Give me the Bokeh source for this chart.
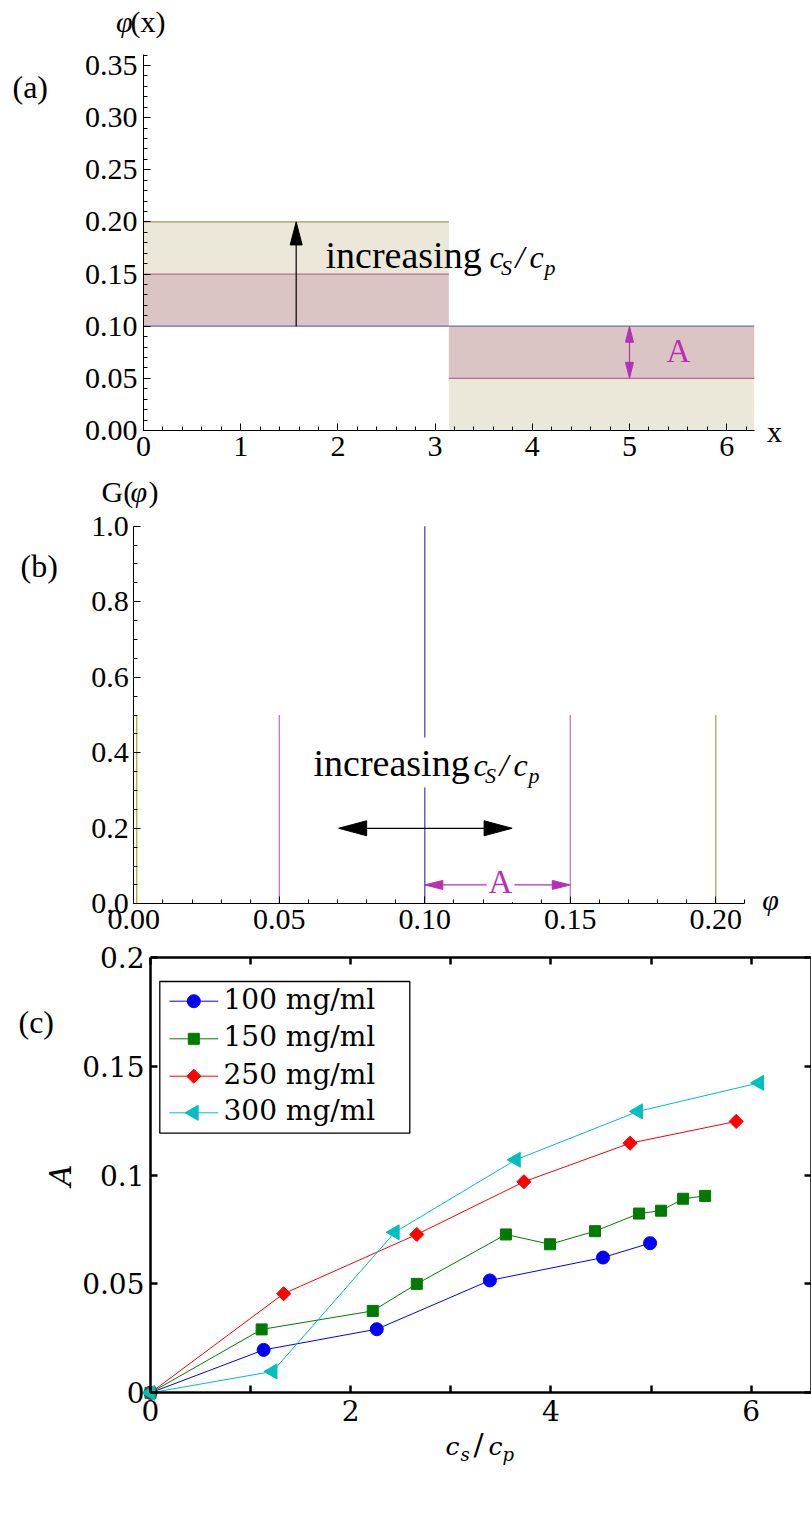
import numpy as np
from bokeh.plotting import figure
from bokeh.layouts import column
from bokeh.models import (Range1d, FixedTicker, PrintfTickFormatter, Label, LinearAxis)
from bokeh.embed import file_html
from bokeh.resources import INLINE

# ---------------- data ----------------
# (a) step profiles phi(x) = phi_mean +/- amplitude
x_edges = [0.0, np.pi, 2 * np.pi]
phi_mean = 0.10
amplitudes = [0.0, 0.05, 0.10]

# (b) distributions G(phi): peak positions and weights
g_phi_a0 = [0.10]
g_val_a0 = [1.0]
g_phi_a1 = [0.05, 0.15]
g_val_a1 = [0.5, 0.5]
g_phi_a2 = [0.001, 0.20]
g_val_a2 = [0.5, 0.5]

# (c) measured amplitude A vs cs/cp
cs_100 = [0.0, 1.13, 2.26, 3.39, 4.52, 4.99]
A_100 = [0.0, 0.0197, 0.0292, 0.0516, 0.0621, 0.0687]
cs_150 = [0.0, 1.11, 2.22, 2.66, 3.55, 3.99, 4.44, 4.88, 5.10, 5.32, 5.54]
A_150 = [0.0, 0.0291, 0.0376, 0.0500, 0.0727, 0.0682, 0.0742, 0.0823, 0.0836, 0.0891, 0.0904]
cs_250 = [0.0, 1.33, 2.66, 3.73, 4.79, 5.85]
A_250 = [0.0, 0.0455, 0.0727, 0.0969, 0.1146, 0.1246]
cs_300 = [0.0, 1.22, 2.44, 3.65, 4.87, 6.08]
A_300 = [0.0, 0.0098, 0.0737, 0.1070, 0.1292, 0.1423]
series_labels = ["100 mg/ml", "150 mg/ml", "250 mg/ml", "300 mg/ml"]

# axis extents and ticks
a_xmax, a_ymax = 2 * np.pi, 0.361
b_xmax, b_ymax = 0.21, 1.0
c_xmax, c_ymax = 6.6, 0.2
a_xticks = [0, 1, 2, 3, 4, 5, 6]
a_yticks = [0.0, 0.05, 0.10, 0.15, 0.20, 0.25, 0.30, 0.35]
b_xticks = [0.0, 0.05, 0.10, 0.15, 0.20]
b_yticks = [0.0, 0.2, 0.4, 0.6, 0.8, 1.0]
c_xticks = [0, 2, 4, 6]
c_xminor = [1, 3, 5]
c_yticks = [0.0, 0.05, 0.10, 0.15, 0.20]
c_ylabels = ["0", "0.05", "0.1", "0.15", "0.2"]

SERIF = "Liberation Serif"
CSERIF = "DejaVu Serif"
BLUE_M, PURPLE_M, OLIVE_M = "#3D3D99", "#993D71", "#998C3F"
MAGENTA = "#B530B5"
PAGE_L, PAGE_R = 0, 811
BASELINE_FIX = 0.4   # label baseline correction, in em


class Mapping:
    """page-pixel <-> data mapping of one panel"""
    def __init__(self, x0, y0, sx, sy):
        self.x0, self.y0, self.sx, self.sy = x0, y0, sx, sy

    def X(self, px):
        return (px - self.x0) / self.sx

    def Y(self, py):
        return (self.y0 - py) / self.sy


def make_fig(m, top, height):
    p = figure(width=PAGE_R - PAGE_L, height=height,
               x_range=Range1d(m.X(PAGE_L), m.X(PAGE_R)),
               y_range=Range1d(m.Y(top + height), m.Y(top)),
               x_axis_location=None, y_axis_location=None, title=None,
               output_backend="svg", toolbar_location=None,
               min_border=0, min_border_left=0, min_border_right=0,
               min_border_top=0, min_border_bottom=0)
    p.outline_line_color = None
    for g in p.grid:
        g.visible = False
    return p


def lab(fig, m, px, py, text, size, style="normal", color="black", align="left",
        baseline="alphabetic", font=SERIF, bg=None, angle=0.0, pad=0):
    if baseline == "alphabetic":
        py = py - BASELINE_FIX * size
    l = Label(x=m.X(px), y=m.Y(py), text=text, text_font=font, text_font_size=f"{size}px",
              text_font_style=style, text_color=color, text_align=align,
              text_baseline=baseline, angle=angle)
    if bg is not None:
        l.background_fill_color = bg
        l.padding = pad
    fig.add_layout(l)


def head(fig, m, xt, yt, dx, dy, L, W, color):
    xb = xt - L * dx / m.sx
    yb = yt - L * dy / m.sy
    px, py = -dy, dx
    xs = [xt, xb + 0.5 * W * px / m.sx, xb - 0.5 * W * px / m.sx]
    ys = [yt, yb + 0.5 * W * py / m.sy, yb - 0.5 * W * py / m.sy]
    fig.patch(xs, ys, fill_color=color, line_color=color, line_width=1)


def axis(fig, side, loc, bounds, ticks, minor, font, size, tin=7, tmin=4, lw=1, standoff=6, fmt=None):
    ax = LinearAxis(fixed_location=loc, bounds=bounds,
                    ticker=FixedTicker(ticks=ticks, minor_ticks=minor))
    ax.axis_line_color = "black"
    ax.axis_line_width = lw
    ax.major_tick_line_color = "black"
    ax.minor_tick_line_color = "black"
    ax.major_tick_line_width = lw
    ax.minor_tick_line_width = lw
    ax.major_tick_in = tin
    ax.major_tick_out = 0
    ax.minor_tick_in = tmin
    ax.minor_tick_out = 0
    ax.major_label_text_font = font
    ax.major_label_text_font_size = f"{size}px"
    ax.major_label_text_color = "black"
    ax.major_label_standoff = standoff
    if fmt is not None:
        ax.formatter = PrintfTickFormatter(format=fmt)
    fig.add_layout(ax, side)
    return ax


def fraction_text(fig, m, px, py, sub1, sub2, big, small, font, drop, gaps, style_slash, slash_size=None):
    # c_{sub1} / c_{sub2}
    g1, g2, g3, g4 = gaps
    lab(fig, m, px, py, "c", big, style="italic", font=font)
    lab(fig, m, px + g1, py + drop, sub1, small, style="italic", font=font)
    lab(fig, m, px + g2, py, "/", slash_size or big, style=style_slash, font=font)
    lab(fig, m, px + g3, py, "c", big, style="italic", font=font)
    lab(fig, m, px + g4, py + drop, sub2, small, style="italic", font=font)


# ---------------- panel (a) ----------------
ma = Mapping(143.0, 430.0, (753.7 - 143.0) / (2 * np.pi), (430.0 - 65.0) / 0.35)
pa = make_fig(ma, 0, 472)

fill_cols = [BLUE_M, PURPLE_M, OLIVE_M]
line_cols = ["#6A6AC0", "#B86A98", "#A39A55"]
for amp, fc in zip(amplitudes[::-1], fill_cols[::-1]):
    if amp == 0:
        continue
    xs = [x_edges[0], x_edges[1], x_edges[1], x_edges[2]]
    ys = [phi_mean + amp, phi_mean + amp, phi_mean - amp, phi_mean - amp]
    pa.varea(x=xs, y1=[phi_mean] * 4, y2=ys, fill_color=fc, fill_alpha=0.2)
for amp, lc in zip(amplitudes[::-1], line_cols[::-1]):
    pa.segment(x0=[x_edges[0], x_edges[1]], y0=[phi_mean + amp, phi_mean - amp],
               x1=[x_edges[1], x_edges[2]], y1=[phi_mean + amp, phi_mean - amp],
               line_color=lc, line_width=1.2)

xa = x_edges[1] / 2
pa.segment(x0=[xa], y0=[phi_mean], x1=[xa], y1=[phi_mean + amplitudes[2] - 0.01],
           line_color="black", line_width=1.2)
head(pa, ma, xa, phi_mean + amplitudes[2], 0, 1, 23, 12, "black")
pa.segment(x0=[5.0], y0=[phi_mean - amplitudes[1] + 0.008], x1=[5.0], y1=[phi_mean - 0.008],
           line_color=MAGENTA, line_width=1.2)
head(pa, ma, 5.0, phi_mean, 0, 1, 16, 8, MAGENTA)
head(pa, ma, 5.0, phi_mean - amplitudes[1], 0, -1, 16, 8, MAGENTA)

axis(pa, "below", 0.0, (0, a_xmax), a_xticks, [round(0.2 * i, 1) for i in range(32)],
     SERIF, 30, standoff=6, fmt="%d")
axis(pa, "left", 0.0, (0, a_ymax), a_yticks, [round(0.01 * i, 2) for i in range(37)],
     SERIF, 30, standoff=6, fmt="%.2f")

lab(pa, ma, 12, 99, "(a)", 32)
lab(pa, ma, 132, 33, "\u03c6", 30, style="italic", align="right")
lab(pa, ma, 130, 33, "(x)", 30)
lab(pa, ma, 774, 442.7, "x", 30, align="center")
lab(pa, ma, 325, 269.3, "increasing", 38)
fraction_text(pa, ma, 489, 269.3, "S", "p", 32, 22, SERIF, 6, (11.5, 26, 40, 55), "italic")
lab(pa, ma, 678, 363.3, "A", 33, color=MAGENTA, align="center")

# ---------------- panel (b) ----------------
mb = Mapping(133.3, 903.3, (715.3 - 133.3) / 0.2, (903.3 - 525.7) / 1.0)
pb = make_fig(mb, 472, 470)

pb.segment(x0=g_phi_a2[:1], y0=[0], x1=g_phi_a2[:1], y1=g_val_a2[:1], line_color="#B5AE2A", line_width=1.3)
pb.segment(x0=g_phi_a2[1:], y0=[0], x1=g_phi_a2[1:], y1=g_val_a2[1:], line_color="#A8A062", line_width=1.3)
pb.segment(x0=g_phi_a1, y0=[0, 0], x1=g_phi_a1, y1=g_val_a1, line_color="#C277C2", line_width=1.3)
pb.segment(x0=g_phi_a0, y0=[0], x1=g_phi_a0, y1=g_val_a0, line_color="#4848C8", line_width=1.3)

pb.segment(x0=[0.075], y0=[0.2], x1=[0.125], y1=[0.2], line_color="black", line_width=1.2)
head(pb, mb, 0.0704, 0.2, -1, 0, 28, 15, "black")
head(pb, mb, 0.1300, 0.2, 1, 0, 28, 15, "black")
pb.segment(x0=[g_phi_a0[0] + 0.004], y0=[0.05], x1=[g_phi_a1[1] - 0.004], y1=[0.05],
           line_color=MAGENTA, line_width=1.2)
head(pb, mb, g_phi_a0[0], 0.05, -1, 0, 18, 9, MAGENTA)
head(pb, mb, g_phi_a1[1], 0.05, 1, 0, 18, 9, MAGENTA)

axis(pb, "below", 0.0, (0, b_xmax), b_xticks, [round(0.01 * i, 2) for i in range(22)],
     SERIF, 30, standoff=6, fmt="%.2f")
axis(pb, "left", 0.0, (0, b_ymax), b_yticks, [round(0.05 * i, 2) for i in range(21)],
     SERIF, 30, standoff=5, fmt="%.1f")

lab(pb, mb, 500, 895, "A", 33, color=MAGENTA, align="center", bg="white", pad=2)
lab(pb, mb, 20, 578, "(b)", 32)
lab(pb, mb, 101, 503.3, "G(", 30)
lab(pb, mb, 130, 503.3, "\u03c6", 30, style="italic")
lab(pb, mb, 148, 503.3, ")", 30)
lab(pb, mb, 770, 911, "\u03c6", 30, style="italic", align="center")
lab(pb, mb, 309, 777.3, "increasing", 38, bg="white", pad=4)
fraction_text(pb, mb, 473, 777.3, "S", "p", 32, 22, SERIF, 6, (11.5, 26, 40, 55), "italic")

# ---------------- panel (c) ----------------
mc = Mapping(150.0, 1392.3, (750.7 - 150.0) / 6.0, (1392.3 - 956.7) / 0.2)
pc = make_fig(mc, 942, 538)

specs = [
    (cs_100, A_100, "#0000FF", "#0000FF", "circle", 13, 0.0),
    (cs_150, A_150, "#008000", "#007A00", "square", 11, 0.0),
    (cs_250, A_250, "#FF0000", "#FF0000", "square", 10, np.pi / 4),
    (cs_300, A_300, "#00BFBF", "#00BFBF", "triangle", 15, np.pi / 2),
]
for xs, ys, lc, mcol, mk, sz, ang in specs:
    pc.line(xs, ys, line_color=lc, line_width=1)
    pc.scatter(xs, ys, marker=mk, size=sz, angle=ang, fill_color=mcol, line_color=mcol)

# legend box (top-left, inside the axes)
lg_l, lg_r, lg_t, lg_b = 159.3, 409.3, 981.0, 1132.7
pc.quad(left=[mc.X(lg_l)], right=[mc.X(lg_r)], top=[mc.Y(lg_t)], bottom=[mc.Y(lg_b)],
        fill_color="white", line_color="black", line_width=1.3)
row_y = [1000.7, 1038.3, 1075.7, 1112.3]
for (xs, ys, lc, mcol, mk, sz, ang), name, ry in zip(specs, series_labels, row_y):
    pc.segment(x0=[mc.X(169)], y0=[mc.Y(ry)], x1=[mc.X(217.7)], y1=[mc.Y(ry)],
               line_color=lc, line_width=1)
    pc.scatter([mc.X(193.3)], [mc.Y(ry)], marker=mk, size=sz, angle=ang,
               fill_color=mcol, line_color=mcol)
    lab(pc, mc, 223, ry + 9, name, 28, font=CSERIF)

axis(pc, "below", 0.0, (0, c_xmax), c_xticks, c_xminor, CSERIF, 28, tin=7, tmin=7,
     lw=2.5, standoff=7, fmt="%d")
yl = axis(pc, "left", 0.0, (0, c_ymax), c_yticks, [], CSERIF, 28, tin=7, tmin=7,
          lw=2.5, standoff=6)
yl.major_label_overrides = {t: s for t, s in zip(c_yticks, c_ylabels)}
# top and right frame edges: ticks only (minor ticks carry no labels)
axis(pc, "above", c_ymax, (0, c_xmax), [], [0, 1, 2, 3, 4, 5, 6], CSERIF, 28,
     tin=7, tmin=7, lw=2.5)
axis(pc, "right", c_xmax, (0, c_ymax), [], c_yticks, CSERIF, 28, tin=7, tmin=7, lw=2.5)

lab(pc, mc, 18, 1034, "(c)", 32)
lab(pc, mc, 60, 1175, "A", 30, style="italic", font=CSERIF, align="center",
    baseline="middle", angle=np.pi / 2)
fraction_text(pc, mc, 445, 1456, "s", "p", 25, 18, CSERIF, 5, (15, 28, 43, 57), "normal",
              slash_size=30)

layout = column(pa, pb, pc, spacing=0)
open("out.html", "w").write(file_html(layout, INLINE))
